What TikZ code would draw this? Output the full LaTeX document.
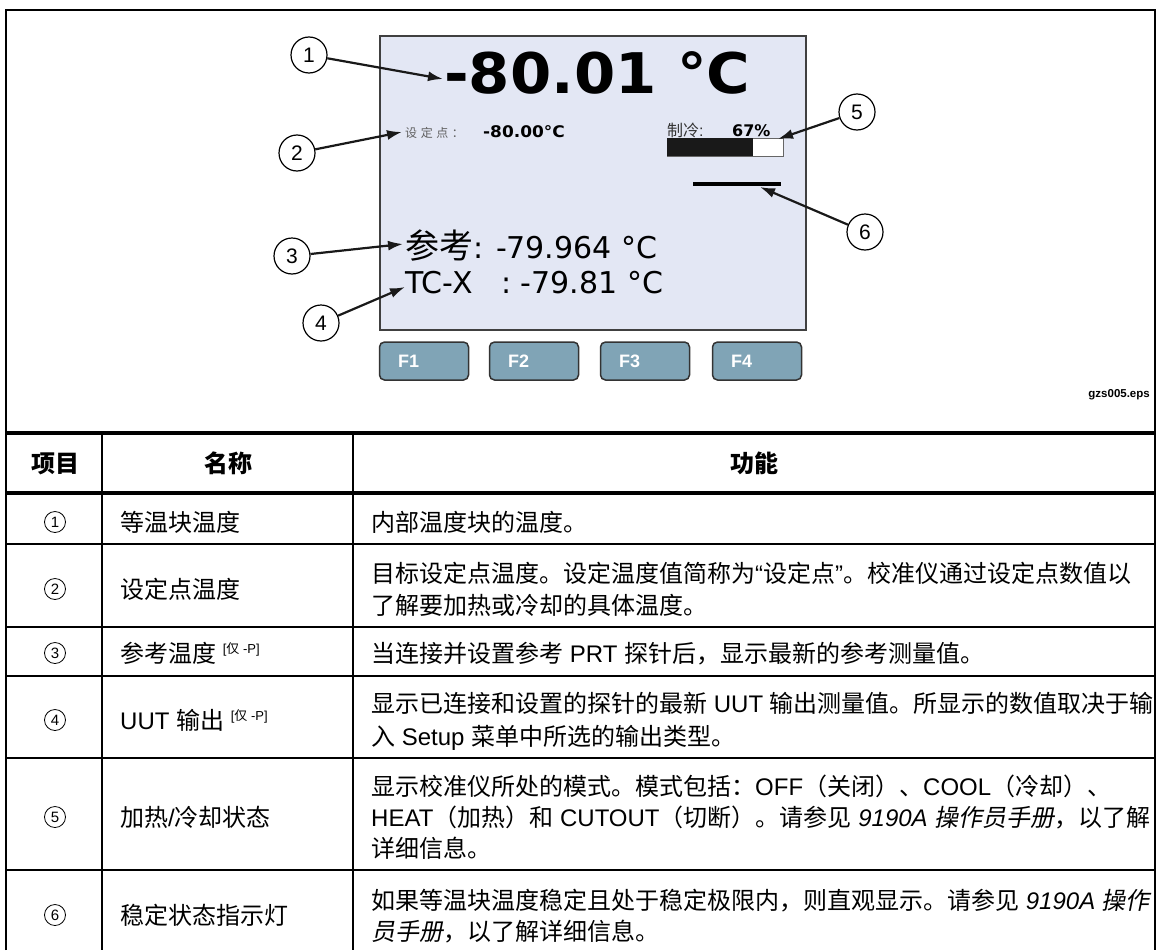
\documentclass[tikz,border=0pt]{standalone}
\usepackage{fontspec}
\setmainfont{Liberation Sans}
\newfontfamily\cjk{Noto Sans CJK SC}
\newfontfamily\cjkit{Noto Sans CJK SC}[FakeSlant=0.2]
\newfontfamily\lcd{DejaVu Sans}
\newfontfamily\lcdwide{DejaVu Sans}[FakeStretch=1.06]
\usepackage{tikz}
\usetikzlibrary{positioning,calc,arrows.meta}

\definecolor{lcdbg}{RGB}{227,231,244}
\definecolor{keyblue}{RGB}{128,164,182}
\definecolor{lcdgray}{RGB}{95,95,95}

\newcommand{\zh}[1]{{\cjk #1}}
\newcommand{\zhit}[1]{{\cjkit #1}}
\newcommand{\onlyP}{\raisebox{9pt}{\fontsize{13}{13}\selectfont[\zh{仅} -P]}}

\begin{document}
\begin{tikzpicture}[x=1pt, y=-1pt,
	callout/.style={draw, circle, line width=1.2pt, minimum size=36pt, inner sep=0pt, fill=white, font=\fontsize{21}{21}\selectfont},
	pointer/.style={draw=black!90, line width=2.2pt, -{Latex[length=15pt,width=10pt]}},
	fkey/.style={draw=black!80, fill=keyblue, line width=1.5pt, rounded corners=5pt, minimum width=89pt, minimum height=38pt, text width=52pt, align=left, text=white, font=\bfseries\fontsize{18}{18}\selectfont},
	tabnum/.style={draw, circle, line width=0.8pt, minimum size=21pt, inner sep=0pt, font=\fontsize{15}{15}\selectfont},
	cell/.style={anchor=base west, inner sep=0pt, font=\fontsize{24}{30}\selectfont},
	headcell/.style={anchor=base, inner sep=0pt, font=\cjk\bfseries\fontsize{24}{30}\selectfont},
	tabrule/.style={line width=2.5pt},
	headrule/.style={line width=4pt}]
	\useasboundingbox (0,0) rectangle (1158,950);

	% display
	\draw[draw=black!75, fill=lcdbg, line width=1.2pt] (380,36) rectangle (806,330);
	\node [anchor=base west, inner sep=0pt, font=\lcdwide\bfseries\fontsize{56}{56}\selectfont] (temp) at (444,93) {-80.01 °C};
	\node [anchor=base west, inner sep=0pt, text=lcdgray, font=\cjk\fontsize{12}{12}\selectfont\addfontfeature{LetterSpace=30}] (splabel) at (405,137) {设定点：};
	\node [anchor=base west, inner sep=0pt, font=\lcdwide\bfseries\fontsize{16}{16}\selectfont] (spval) at (483,137) {-80.00°C};
	\node [anchor=base west, inner sep=0pt, text=black!80, font=\fontsize{16}{16}\selectfont] (coollabel) at (667,136) {\zh{制冷}:};
	\node [anchor=base west, inner sep=0pt, font=\lcd\bfseries\fontsize{16}{16}\selectfont] (coolval) at (732,136) {67\%};
	\draw[draw=black!60, fill=white, line width=1pt] (667,138) rectangle (783,156);
	\fill[black!90] (667,138) rectangle (753,156);
	\draw[line width=4pt] (693,184) -- (781,184);
	\node [anchor=base west, inner sep=0pt, font=\lcd\fontsize{30}{30}\selectfont] (refval) at (405,258) {{\cjk\fontsize{34}{34}\selectfont 参考}: -79.964 °C};
	\node [anchor=base west, inner sep=0pt, font=\lcd\fontsize{30}{30}\selectfont] (tcval) at (405,293) {TC-X\ \ \ : -79.81 °C};

	% soft keys
	\node [fkey] (F1) at (424,361) {F1};
	\node [fkey] (F2) at (534,361) {F2};
	\node [fkey] (F3) at (645,361) {F3};
	\node [fkey] (F4) at (757,361) {F4};
	\node [anchor=base east, inner sep=0pt, font=\bfseries\fontsize{11.5}{11.5}\selectfont] (fig) at (1150,397) {gzs005.eps};

	% callouts
	\node [callout] (c1) at (309,55) {1};
	\node [callout] (c2) at (297,153) {2};
	\node [callout] (c3) at (292,256) {3};
	\node [callout] (c4) at (321,323) {4};
	\node [callout] (c5) at (857,112) {5};
	\node [callout] (c6) at (865,232) {6};
	\coordinate (t1) at (443,79);
	\coordinate (t2) at (402,132);
	\coordinate (t3) at (403,244);
	\coordinate (t4) at (405,287);
	\coordinate (t5) at (778,139);
	\coordinate (t6) at (760,187);
	\path [pointer] (c1) -- (t1);
	\path [pointer] (c2) -- (t2);
	\path [pointer] (c3) -- (t3);
	\path [pointer] (c4) -- (t4);
	\path [pointer] (c5) -- (t5);
	\path [pointer] (c6) -- (t6);

	% table
	\draw[tabrule] (6,950) -- (6,10) -- (1155,10) -- (1155,950);
	\draw[headrule] (6,433) -- (1155,433);
	\draw[headrule] (6,493) -- (1155,493);
	\draw[tabrule] (6,544) -- (1155,544);
	\draw[tabrule] (6,627) -- (1155,627);
	\draw[tabrule] (6,676) -- (1155,676);
	\draw[tabrule] (6,758) -- (1155,758);
	\draw[tabrule] (6,870) -- (1155,870);
	\draw[tabrule] (102,433) -- (102,950);
	\draw[tabrule] (353,433) -- (353,950);

	\node [headcell] (hitem) at (55,472) {项目};
	\node [headcell] (hname) at (228,472) {名称};
	\node [headcell] (hfunc) at (754,472) {功能};

	\node [tabnum] (n1) at (55,522) {1};
	\node [tabnum] (n2) at (55,589) {2};
	\node [tabnum] (n3) at (55,653) {3};
	\node [tabnum] (n4) at (55,720) {4};
	\node [tabnum] (n5) at (55,817) {5};
	\node [tabnum] (n6) at (55,915) {6};

	\node [cell] (name1) at (120,531) {\zh{等温块温度}};
	\node [cell] (name2) at (120,598) {\zh{设定点温度}};
	\node [cell] (name3) at (120,662) {\zh{参考温度} \onlyP};
	\node [cell] (name4) at (120,729) {UUT \zh{输出} \onlyP};
	\node [cell] (name5) at (120,826) {\zh{加热}/\zh{冷却状态}};
	\node [cell] (name6) at (120,924) {\zh{稳定状态指示灯}};

	\node [cell] (desc1) at (371,531) {\zh{内部温度块的温度。}};
	\node [cell] (desc2a) at (371,582) {\zh{目标设定点温度。设定温度值简称为}“\zh{设定点}”\zh{。校准仪通过设定点数值以}};
	\node [cell] (desc2b) at (371,614) {\zh{了解要加热或冷却的具体温度。}};
	\node [cell] (desc3) at (371,662) {\zh{当连接并设置参考} PRT \zh{探针后，显示最新的参考测量值。}};
	\node [cell] (desc4a) at (371,712) {\zh{显示已连接和设置的探针的最新} UUT \zh{输出测量值。所显示的数值取决于输}};
	\node [cell] (desc4b) at (371,745) {\zh{入} Setup \zh{菜单中所选的输出类型。}};
	\node [cell] (desc5a) at (371,795) {\zh{显示校准仪所处的模式。模式包括：}OFF\zh{（关闭）、}COOL\zh{（冷却）、}};
	\node [cell] (desc5b) at (371,826) {HEAT\zh{（加热）和} CUTOUT\zh{（切断）。请参见} \textit{9190A} \zhit{操作员手册}\zh{，以了解}};
	\node [cell] (desc5c) at (371,857) {\zh{详细信息。}};
	\node [cell] (desc6a) at (371,909) {\zh{如果等温块温度稳定且处于稳定极限内，则直观显示。请参见} \textit{9190A} \zhit{操作}};
	\node [cell] (desc6b) at (371,940) {\zhit{员手册}\zh{，以了解详细信息。}};
\end{tikzpicture}
\end{document}
